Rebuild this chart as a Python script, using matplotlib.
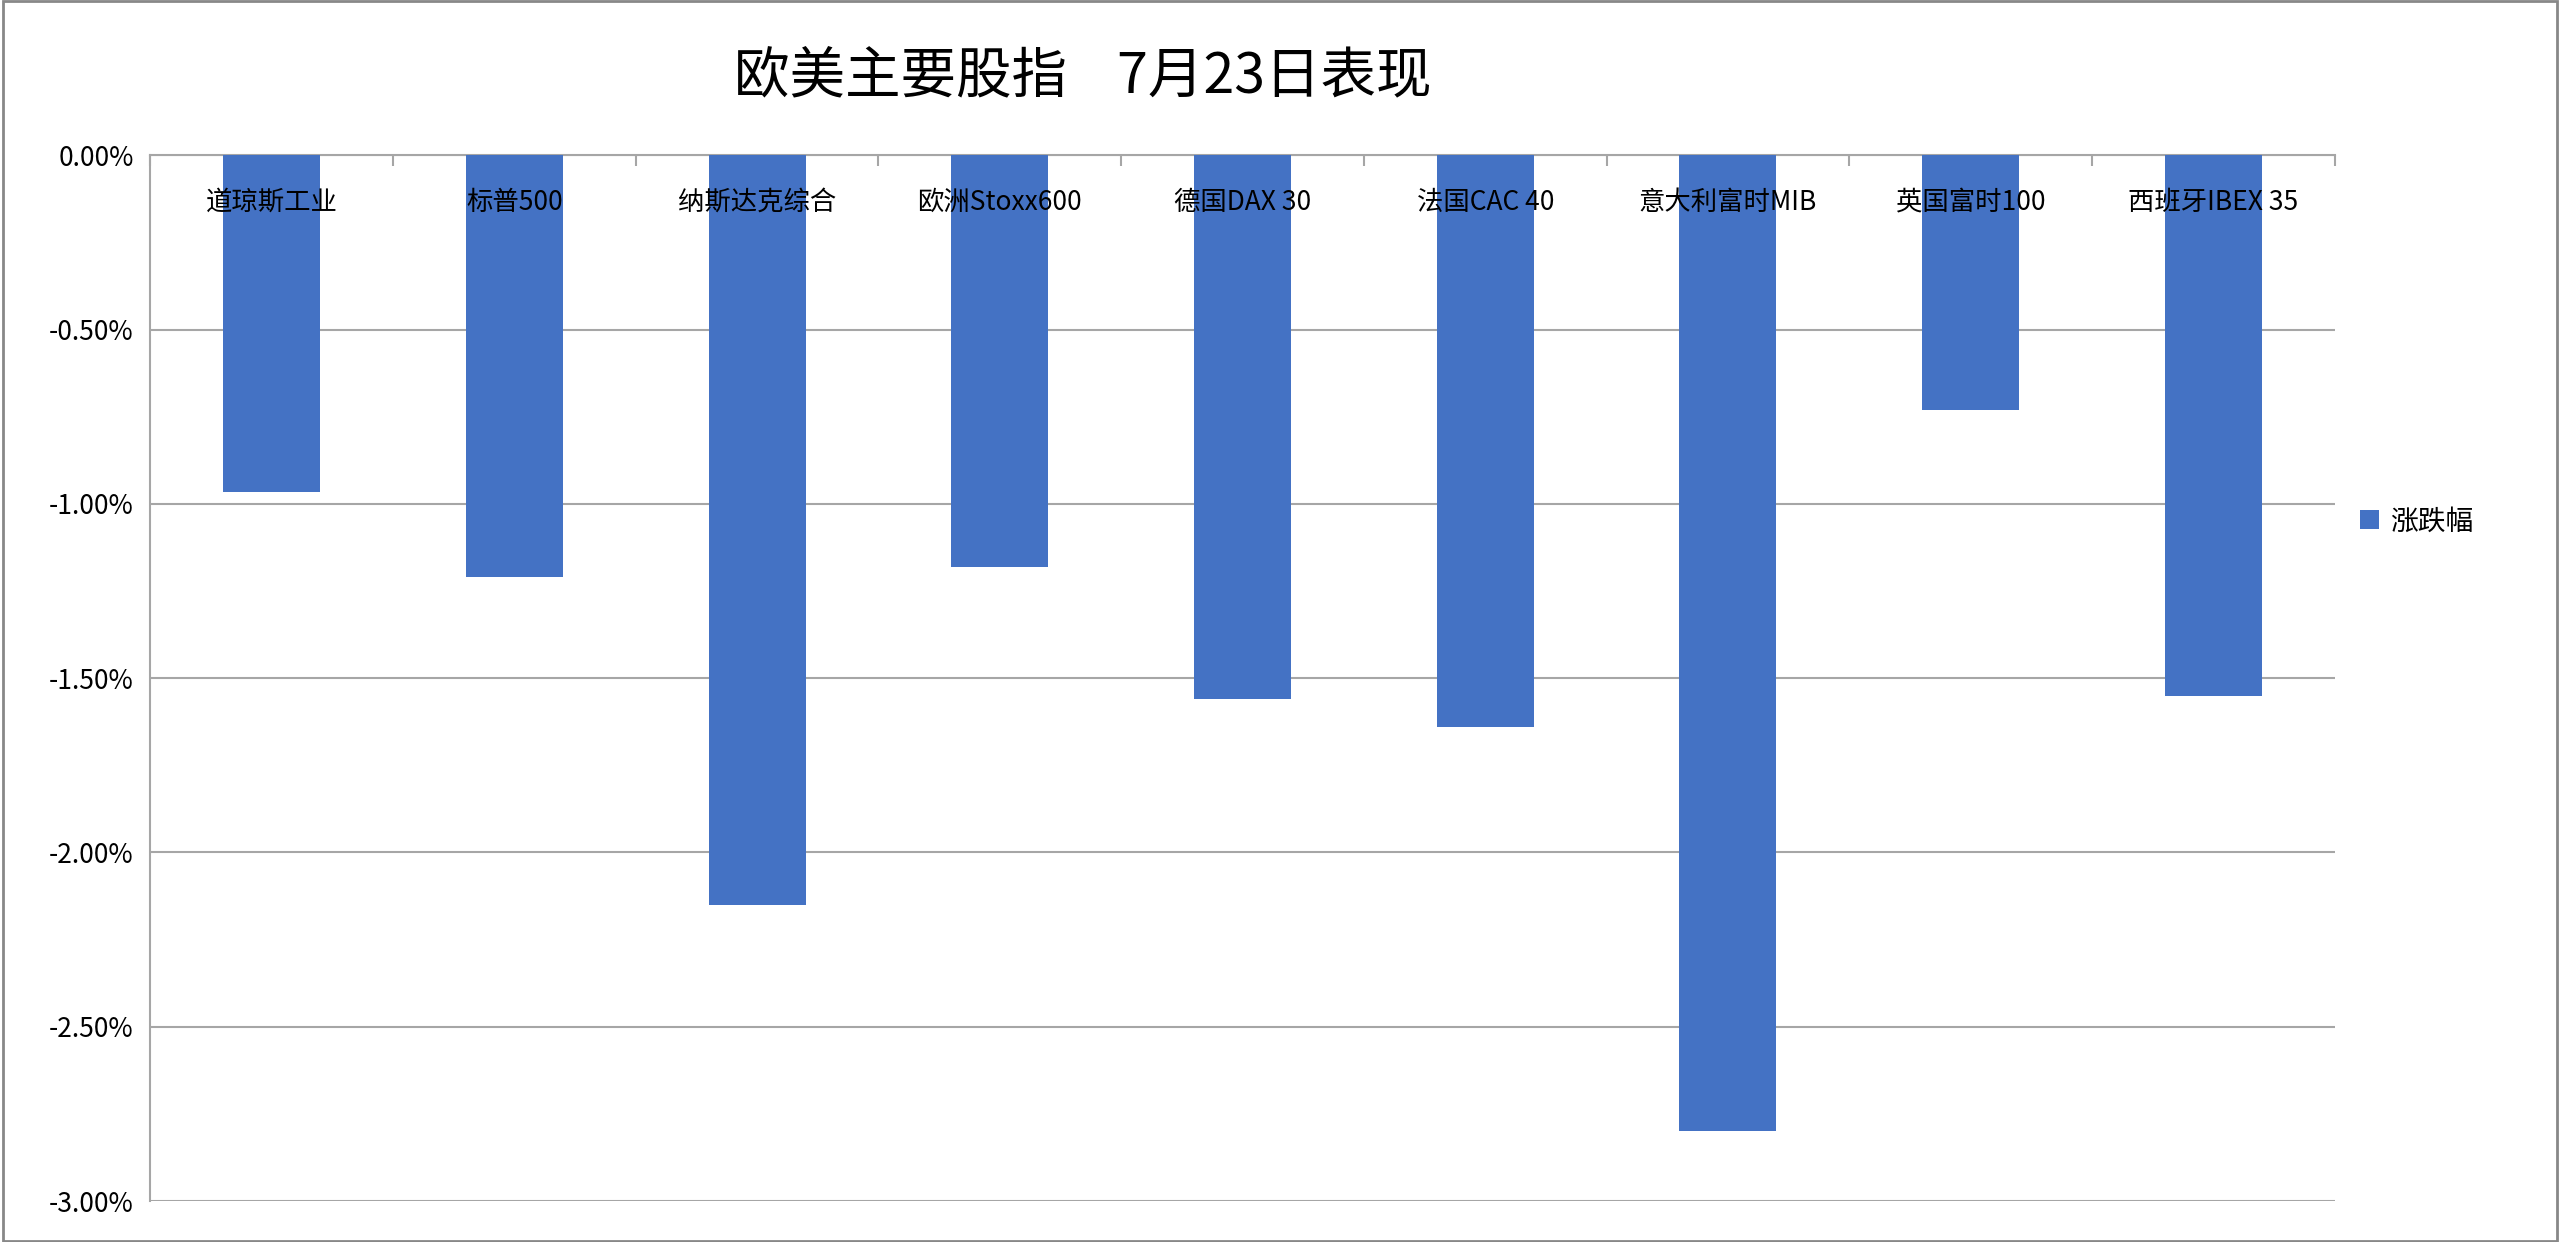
import matplotlib
matplotlib.use("Agg")
import matplotlib.pyplot as plt
import numpy as np
from matplotlib.ticker import FuncFormatter

plt.rcParams['font.family'] = ['Noto Sans CJK SC', 'DejaVu Sans']

categories = ["道琼斯工业", "标普500", "纳斯达克综合", "欧洲Stoxx600", "德国DAX 30",
              "法国CAC 40", "意大利富时MIB", "英国富时100", "西班牙IBEX 35"]
values = [-0.965, -1.21, -2.15, -1.18, -1.56, -1.64, -2.80, -0.73, -1.55]
series_name = "涨跌幅"
title = "欧美主要股指    7月23日表现"

fig = plt.figure(figsize=(25.6, 12.42), dpi=100)
ax = fig.add_axes([0.0587, 0.033, 0.8533, 0.842])
x = np.arange(len(categories))
ax.bar(x, values, width=0.4, color="#4472C4", label=series_name, zorder=3)
ax.set_xlim(-0.5, len(categories) - 0.5)
ax.set_ylim(-3.0, 0.0)
ax.set_yticks(np.arange(-3.0, 0.01, 0.5))
ax.yaxis.set_major_formatter(FuncFormatter(lambda v, p: f"{v:.2f}%"))
ax.tick_params(axis='y', labelsize=19, length=0, pad=12)
ax.grid(axis='y', color="#A6A6A6", linewidth=1.5, zorder=0)
for s in ['right', 'bottom']:
    ax.spines[s].set_visible(False)
ax.spines['left'].set_color("#A6A6A6")
ax.spines['left'].set_linewidth(1.5)
ax.spines['top'].set_color("#A6A6A6")
ax.spines['top'].set_linewidth(1.5)
ax.xaxis.tick_top()
ax.set_xticks(np.arange(-0.5, len(categories), 1.0))
ax.set_xticklabels([])
ax.tick_params(axis='x', direction='in', length=8, color="#A6A6A6", width=1.5)
for xi, c in zip(x, categories):
    ax.text(xi, -0.135, c, ha='center', va='center', fontsize=19, zorder=4)
ax.legend(loc='center left', bbox_to_anchor=(1.0, 0.65), frameon=False,
          fontsize=20, handlelength=0.7, handleheight=0.7, handletextpad=0.4)
fig.text(0.423, 0.938, title, ha='center', va='center', fontsize=40)
fig.patches.append(plt.Rectangle((0.001, 0.001), 0.998, 0.998, transform=fig.transFigure,
                                 fill=False, edgecolor="#888888", linewidth=2))
fig.savefig("out.png", dpi=100)
